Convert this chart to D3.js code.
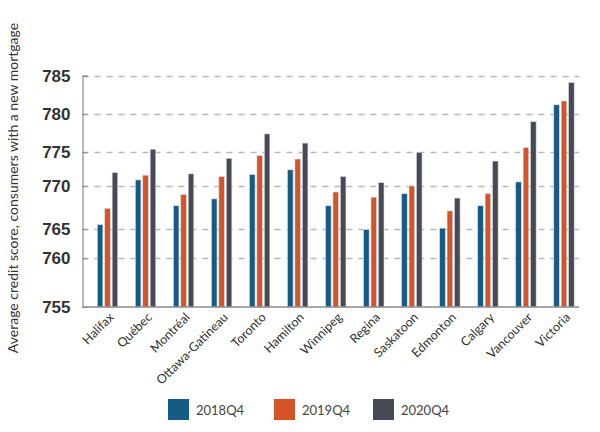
<!DOCTYPE html>
<html>
<head>
<meta charset="utf-8">
<script src="https://cdn.jsdelivr.net/npm/d3@7"></script>
<style>
  body { margin: 0; background: #fff; }
  svg { display: block; font-family: Lato, "Open Sans", sans-serif; }
</style>
</head>
<body>
<svg id="chart" width="600" height="432"></svg>
<script>
const cities = ['Halifax', 'Québec', 'Montréal', 'Ottawa-Gatineau', 'Toronto', 'Hamilton',
                'Winnipeg', 'Regina', 'Saskatoon', 'Edmonton', 'Calgary', 'Vancouver', 'Victoria'];
const series = ['2018Q4', '2019Q4', '2020Q4'];
const q2018 = [765.5, 770.9, 767.7, 768.5, 771.7, 772.4, 767.7, 764.9, 769.1, 765.1, 767.7, 770.6, 781.2];
const q2019 = [767.4, 771.6, 769.0, 771.4, 774.5, 774.0, 769.3, 768.7, 770.0, 767.1, 769.1, 775.6, 781.7];
const q2020 = [772.0, 775.4, 771.8, 774.1, 777.4, 776.2, 771.4, 770.5, 775.0, 768.6, 773.7, 779.0, 784.1];
const yTicks = [755, 760, 765, 770, 775, 780, 785];

const colors = ['#155b85', '#d45327', '#464a55'];
const values = [q2018, q2019, q2020];

const svg = d3.select('#chart');

// the original axis is not evenly spaced, so map each tick to where it sits
const y = d3.scaleLinear()
            .domain(yTicks)
            .range([307, 258.3, 229, 186, 152.3, 114, 75.7]);

const x0 = d3.scaleBand()
             .domain(cities)
             .range([88.5, 583]);

const x1 = d3.scaleBand()
             .domain(series)
             .range([-10.2, 10.2])
             .paddingInner(0.25);

const left = 82.5, right = 579;

// gridlines
svg.append('g')
   .selectAll('line')
   .data(yTicks.slice(1))
   .join('line')
   .attr('x1', left)
   .attr('x2', right)
   .attr('y1', function(d) { return Math.round(y(d)) + 0.5; })
   .attr('y2', function(d) { return Math.round(y(d)) + 0.5; })
   .attr('stroke', '#b8b8b8')
   .attr('stroke-width', 1.3)
   .attr('stroke-dasharray', '6,6');

// bars
const group = svg.append('g')
                 .selectAll('g')
                 .data(cities)
                 .join('g')
                 .attr('transform', function(d) {
                     return 'translate(' + (x0(d) + x0.bandwidth() / 2) + ',0)';
                 });

group.selectAll('rect')
     .data(function(d, i) {
         return series.map(function(s, j) {
             return { s: s, v: values[j][i], c: colors[j] };
         });
     })
     .join('rect')
     .attr('x', function(d) { return x1(d.s); })
     .attr('width', x1.bandwidth())
     .attr('y', function(d) { return y(d.v); })
     .attr('height', function(d) { return y(755) - y(d.v); })
     .attr('fill', function(d) { return d.c; })
     .attr('stroke', '#d6dbe0')
     .attr('stroke-width', 0.6);

// y axis
const yAxis = svg.append('g')
                 .attr('transform', 'translate(' + left + ',0)')
                 .call(d3.axisRight(y).tickValues(yTicks).tickSize(5).tickFormat(d3.format('d')));
yAxis.select('.domain').attr('stroke', '#8a8a8a').attr('stroke-width', 1.2);
yAxis.selectAll('.tick line').attr('stroke', '#8a8a8a');
yAxis.selectAll('.tick text')
     .attr('x', -12)
     .attr('text-anchor', 'end')
     .attr('fill', '#333')
     .attr('font-size', 17)
     .attr('font-weight', 'bold');

// baseline
svg.append('line')
   .attr('x1', left)
   .attr('x2', right)
   .attr('y1', y(755))
   .attr('y2', y(755))
   .attr('stroke', '#8a8a8a')
   .attr('stroke-width', 1.5);

// category labels
svg.append('g')
   .selectAll('text')
   .data(cities)
   .join('text')
   .attr('transform', function(d) {
       return 'translate(' + (x0(d) + x0.bandwidth() / 2 + 4) + ',315) rotate(-45)';
   })
   .attr('text-anchor', 'end')
   .attr('dy', '0.35em')
   .attr('font-size', 12.5)
   .attr('fill', '#333')
   .text(function(d) { return d; });

// y title
svg.append('text')
   .attr('transform', 'translate(18,188) rotate(-90)')
   .attr('text-anchor', 'middle')
   .attr('font-size', 14)
   .attr('fill', '#333')
   .text('Average credit score, consumers with a new mortgage');

// legend
const legendX = [168, 274, 373];
const legend = svg.append('g')
                  .selectAll('g')
                  .data(series)
                  .join('g')
                  .attr('transform', function(d, i) {
                      return 'translate(' + legendX[i] + ',399)';
                  });
legend.append('rect')
      .attr('width', 21)
      .attr('height', 21)
      .attr('fill', function(d, i) { return colors[i]; });
legend.append('text')
      .attr('x', 28)
      .attr('y', 11)
      .attr('dy', '0.35em')
      .attr('font-size', 13)
      .attr('fill', '#444')
      .text(function(d) { return d; });
</script>
</body>
</html>
